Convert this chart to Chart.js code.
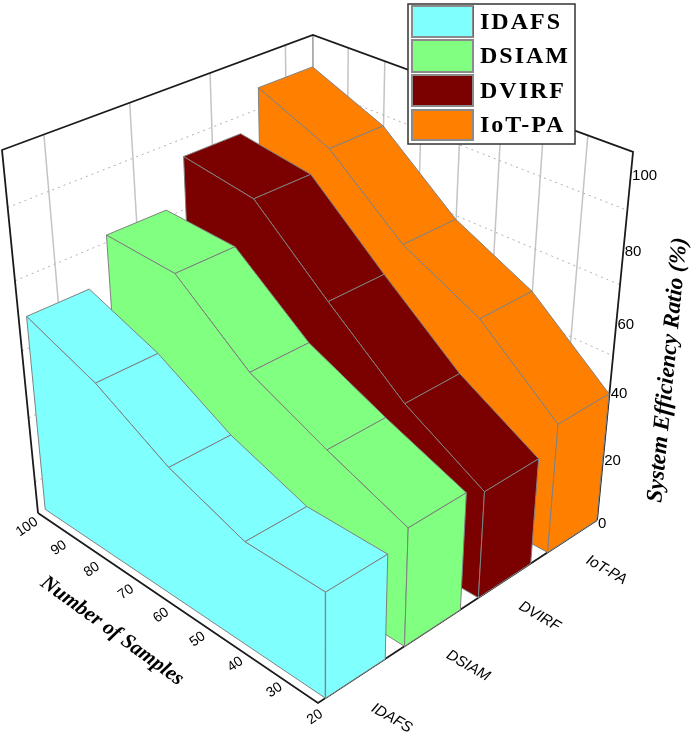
<!DOCTYPE html>
<html>
<head>
<meta charset="utf-8">
<script src="https://cdn.jsdelivr.net/npm/chart.js@4.4.1/dist/chart.umd.min.js"></script>
<style>
  html, body { margin: 0; padding: 0; background: #fff; }
  #wrap { width: 700px; height: 740px; }
</style>
</head>
<body>
<div id="wrap"><canvas id="mycanvas" width="700" height="740"></canvas></div>
<script>
var samples = [100, 80, 60, 40, 20];
var seriesNames = ['IDAFS', 'DSIAM', 'DVIRF', 'IoT-PA'];
var idafs = [59, 51, 39, 31, 31];
var dsiam = [72, 71, 54, 44, 35];
var dvirf = [85, 82, 63, 45, 32];
var iotpa = [96, 87, 69, 58, 39];
var seriesColors = ['#80ffff', '#80ff80', '#7b0000', '#ff8000'];
var sampleTicks = [100, 90, 80, 70, 60, 50, 40, 30, 20];
var valueTicks = [0, 20, 40, 60, 80, 100];
var gridValues = [10, 30, 50, 70, 90];

// ranges of the 3d box
var sMin = 20, sMax = 100;
var catMin = 0.535, catMax = 4.38, halfWidth = 0.375;
var zMax = 105;

// perspective camera, fitted on the corners of the box
function proj(u, v, w) {
    var d = 1 - 0.1316 * u + 0.1174 * v - 0.1133 * w;
    return {
        x: (38 + 238.15 * u + 312.4 * v - 36.23 * w) / d,
        y: (513 + 97.5 * u - 97.9 * v - 380 * w) / d
    };
}
function uOf(s) { return (sMax - s) / (sMax - sMin); }
function vOf(c) { return (c - catMin) / (catMax - catMin); }
function wOf(z) { return z / zMax; }

var datasets = [];
function addPoly(pts, fillColor, stroke, width, dash, close) {
    var data = pts.slice();
    if (close) data.push(pts[0]);
    datasets.push({
        data: data,
        showLine: true,
        fill: fillColor ? 'shape' : false,
        backgroundColor: fillColor || 'transparent',
        borderColor: stroke,
        borderWidth: width,
        borderDash: dash || [],
        pointRadius: 0,
        pointHoverRadius: 0,
        tension: 0
    });
}

// walls: grid lines first
var gridGrey = '#c4c4c4';
for (var i = 1; i < sampleTicks.length - 1; i++) {
    var u = uOf(sampleTicks[i]);
    addPoly([proj(u, 1, 0), proj(u, 1, 1)], null, gridGrey, 1.5);
}
for (var c = 1; c <= seriesNames.length; c++) {
    var v = vOf(c);
    addPoly([proj(0, v, 0), proj(0, v, 1)], null, gridGrey, 1.5);
}
gridValues.forEach(function(z) {
    var w = wOf(z);
    addPoly([proj(0, 0, w), proj(0, 1, w), proj(1, 1, w)], null, '#b0b0b0', 1, [2, 4]);
});
addPoly([proj(0, 1, 0), proj(0, 1, 1)], null, '#9a9a9a', 1.5);

// box edges
var edge = '#1a1a1a';
addPoly([proj(0, 0, 0), proj(0, 0, 1), proj(0, 1, 1), proj(1, 1, 1), proj(1, 1, 0)], null, edge, 1.8);
addPoly([proj(0, 0, 0), proj(1, 0, 0), proj(1, 1, 0)], null, edge, 1.8);

// ribbons, back to front
var allSeries = [idafs, dsiam, dvirf, iotpa];
var outline = '#808080';
for (var k = allSeries.length - 1; k >= 0; k--) {
    var vals = allSeries[k];
    var v0 = vOf(k + 1 - halfWidth), v1 = vOf(k + 1 + halfWidth);
    var col = seriesColors[k];
    for (var j = 0; j < samples.length - 1; j++) {
        var ua = uOf(samples[j]), ub = uOf(samples[j + 1]);
        var wa = wOf(vals[j]), wb = wOf(vals[j + 1]);
        addPoly([proj(ua, v0, wa), proj(ub, v0, wb), proj(ub, v1, wb), proj(ua, v1, wa)], col, outline, 1, null, true);
    }
    var front = [proj(uOf(samples[0]), v0, 0)];
    for (var j2 = 0; j2 < samples.length; j2++) {
        front.push(proj(uOf(samples[j2]), v0, wOf(vals[j2])));
    }
    front.push(proj(uOf(samples[samples.length - 1]), v0, 0));
    addPoly(front, col, outline, 1, null, true);
    var ue = uOf(samples[samples.length - 1]), we = wOf(vals[vals.length - 1]);
    addPoly([proj(ue, v0, 0), proj(ue, v0, we), proj(ue, v1, we), proj(ue, v1, 0)], col, outline, 1, null, true);
}

// later polygons are nearer: give them the lower order so they are drawn on top
datasets.forEach(function(d, i) { d.order = datasets.length - i; });

function drawText(ctx, text, x, y, angle, font, align, spacing) {
    ctx.save();
    ctx.translate(x, y);
    ctx.rotate(angle * Math.PI / 180);
    ctx.font = font;
    if (spacing) ctx.letterSpacing = spacing;
    ctx.fillStyle = '#000';
    ctx.textAlign = align || 'center';
    ctx.textBaseline = 'middle';
    ctx.fillText(text, 0, 0);
    ctx.restore();
}

var textPlugin = {
    id: 'texts',
    afterDraw: function(chart) {
        var ctx = chart.ctx;
        var sx = chart.scales.x, sy = chart.scales.y;
        function px(p) { return { x: sx.getPixelForValue(p.x), y: sy.getPixelForValue(p.y) }; }

        sampleTicks.forEach(function(s) {
            var u = uOf(s);
            var p = px(proj(u, 0, 0));
            drawText(ctx, String(s), p.x - 11 + 8 * u, p.y + 14, -35, '14px "Liberation Sans"');
        });
        seriesNames.forEach(function(name, i) {
            var t = i / 3;
            var p = px(proj(1, vOf(i + 1), 0));
            drawText(ctx, name, p.x + 36 - 2 * t, p.y + 40 - 6 * t, 30, 'italic 15px "Liberation Sans"');
        });
        valueTicks.forEach(function(z) {
            var p = px(proj(1, 1, wOf(z)));
            drawText(ctx, String(z), p.x + 1, p.y + 4, 0, '15px "Liberation Sans"', 'left');
        });
        drawText(ctx, 'Number of Samples', 112, 631, 36, 'bold italic 21px "Liberation Serif"');
        drawText(ctx, 'System Efficiency Ratio (%)', 668, 370, -84.5, 'bold italic 23px "Liberation Serif"');

        // legend
        ctx.save();
        ctx.fillStyle = '#fff';
        ctx.fillRect(408, 4, 167, 140);
        ctx.strokeStyle = '#333';
        ctx.lineWidth = 1.5;
        ctx.strokeRect(408, 4, 167, 140);
        var rows = [[6, 37], [40, 72], [75, 106], [110, 140]];
        seriesNames.forEach(function(name, i) {
            var r = rows[i];
            ctx.fillStyle = seriesColors[i];
            ctx.fillRect(412, r[0], 61, r[1] - r[0]);
            ctx.strokeStyle = '#8a8a8a';
            ctx.lineWidth = 2;
            ctx.strokeRect(412, r[0], 61, r[1] - r[0]);
            drawText(ctx, name, 480, (r[0] + r[1]) / 2 + 1, 0, 'bold 24px "Liberation Serif"', 'left', '2px');
        });
        ctx.strokeStyle = '#e03030';
        ctx.lineWidth = 1;
        ctx.beginPath();
        ctx.moveTo(473.5, 6);
        ctx.lineTo(473.5, 37);
        ctx.stroke();
        ctx.restore();
    }
};

var ctx = document.getElementById('mycanvas');
var chart = new Chart(ctx, {
    type: 'scatter',
    data: { datasets: datasets },
    options: {
        responsive: false,
        animation: false,
        events: [],
        layout: { padding: 0 },
        plugins: { legend: { display: false }, tooltip: { enabled: false } },
        scales: {
            x: { type: 'linear', min: 0, max: 700, display: false },
            y: { type: 'linear', min: 0, max: 740, reverse: true, display: false }
        }
    },
    plugins: [textPlugin]
});
</script>
</body>
</html>
